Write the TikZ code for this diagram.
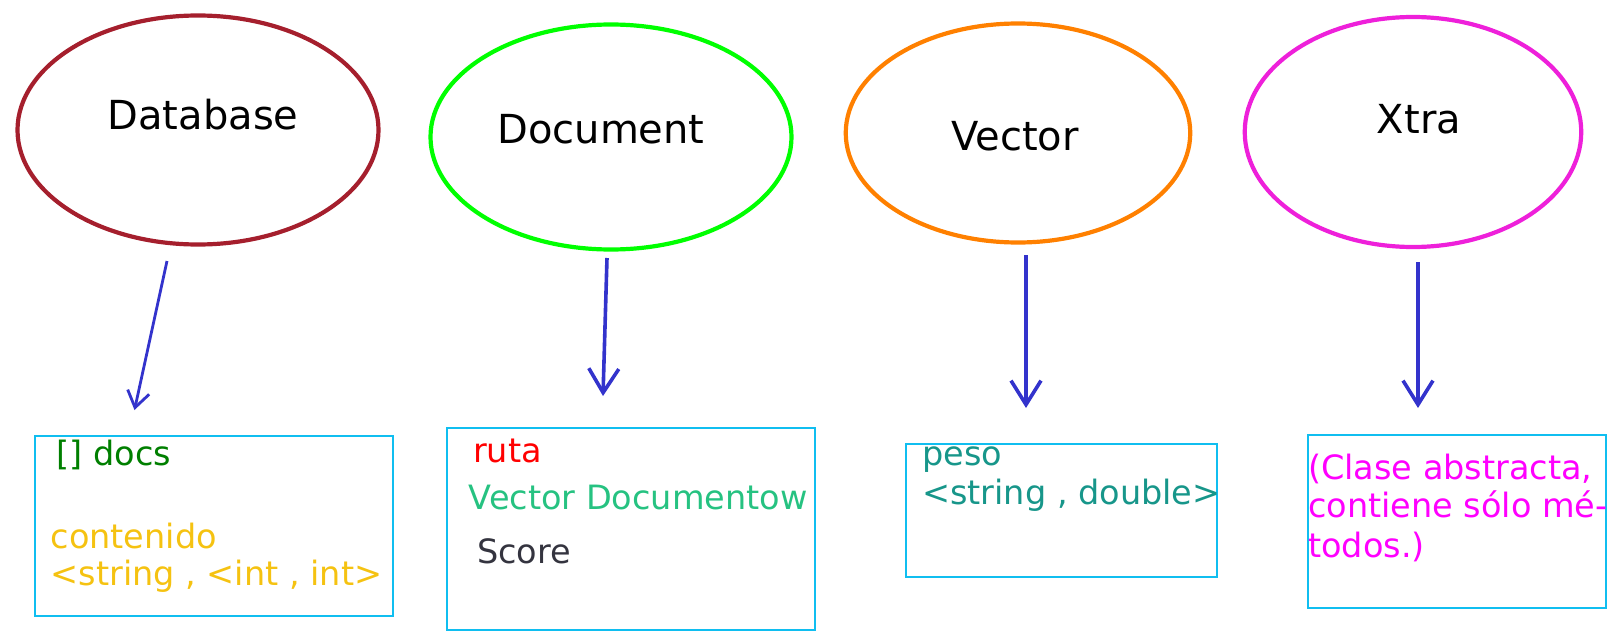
\documentclass[tikz,border=0pt]{standalone}
\usepackage{fontspec}
\setmainfont{DejaVu Sans}
\usetikzlibrary{shapes.geometric,arrows.meta}
\definecolor{dbred}{HTML}{A51F2D}
\definecolor{docgreen}{HTML}{00FF00}
\definecolor{vecorange}{HTML}{FF8000}
\definecolor{xtramagenta}{HTML}{EE20DA}
\definecolor{flechablue}{HTML}{3333CC}
\definecolor{cajacyan}{HTML}{10BEF0}
\definecolor{docsgreen}{HTML}{007F00}
\definecolor{contyellow}{HTML}{F5C211}
\definecolor{vdgreen}{HTML}{26C281}
\definecolor{scoregray}{HTML}{34343F}
\definecolor{pesoteal}{HTML}{17968A}
\definecolor{abstrmagenta}{HTML}{FF00FF}
\tikzset{
  clase/.style={draw, ellipse, line width=4.2pt, inner sep=0pt},
  titulo/.style={font=\fontsize{40}{48}\selectfont, inner sep=0pt, anchor=base},
  caja/.style={draw=cajacyan, line width=2.2pt, anchor=north west, inner sep=0pt},
  campo/.style={font=\fontsize{33.5}{40}\selectfont, inner sep=0pt, anchor=base west},
  flecha/.style={draw=flechablue, line width=3.6pt, -{Straight Barb[length=24pt,width=30pt]}}
}
\begin{document}
\begin{tikzpicture}[x=1pt,y=-1pt]
  \useasboundingbox (0,0) rectangle (1620,637);
  % classes
  \node[clase, draw=dbred, minimum width=361pt, minimum height=229pt] (database) at (198,130) {};
  \node[clase, draw=docgreen, minimum width=361pt, minimum height=225pt] (document) at (611,137) {};
  \node[clase, draw=vecorange, minimum width=344.5pt, minimum height=219pt] (vector) at (1018,133) {};
  \node[clase, draw=xtramagenta, minimum width=336.5pt, minimum height=230pt] (xtra) at (1413,132) {};
  \node[titulo] (databasetxt) at (203,129) {Database};
  \node[titulo] (documenttxt) at (601,143) {Document};
  \node[titulo] (vectortxt) at (1015,150) {Vector};
  \node[titulo] (xtratxt) at (1419,133) {Xtra};
  % boxes
  \node[caja, minimum width=358pt, minimum height=180pt] (docsbox) at (33.5,435) {};
  \node[caja, minimum width=368pt, minimum height=202pt] (rutabox) at (446,427) {};
  \node[caja, minimum width=311pt, minimum height=133pt] (pesobox) at (905,443) {};
  \node[caja, minimum width=298pt, minimum height=173pt] (xtrabox) at (1307,434) {};
  % fields
  \node[campo, text=docsgreen] (docs) at (56.5,465) {[] docs};
  \node[campo, text=contyellow] (contenido) at (50.5,548) {contenido};
  \node[campo, text=contyellow] (contenidotipo) at (50.5,585) {<string , <int , int>};
  \node[campo, text=red] (ruta) at (473,462) {ruta};
  \node[campo, text=vdgreen] (vecdoc) at (468.5,509) {Vector Documentow};
  \node[campo, text=scoregray] (score) at (477,563) {Score};
  \node[campo, text=pesoteal] (peso) at (922,465) {peso};
  \node[campo, text=pesoteal] (pesotipo) at (922,504) {<string , double>};
  \node[campo, text=abstrmagenta] (abstr1) at (1308,479) {(Clase abstracta,};
  \node[campo, text=abstrmagenta] (abstr2) at (1308,517) {contiene sólo mé-};
  \node[campo, text=abstrmagenta] (abstr3) at (1308,557) {todos.)};
  % arrows
  \coordinate (dbtail) at (167,261);
  \coordinate (dbhead) at (134.5,410);
  \coordinate (doctail) at (607,258);
  \coordinate (dochead) at (603,396);
  \coordinate (vectail) at (1026,255);
  \coordinate (vechead) at (1026,408);
  \coordinate (xtratail) at (1418,262);
  \coordinate (xtrahead) at (1418,408);
  \draw[flecha, line width=2.8pt, -{Straight Barb[length=16pt,width=22pt]}] (dbtail) -- (dbhead);
  \draw[flecha] (doctail) -- (dochead);
  \draw[flecha] (vectail) -- (vechead);
  \draw[flecha] (xtratail) -- (xtrahead);
\end{tikzpicture}
\end{document}
